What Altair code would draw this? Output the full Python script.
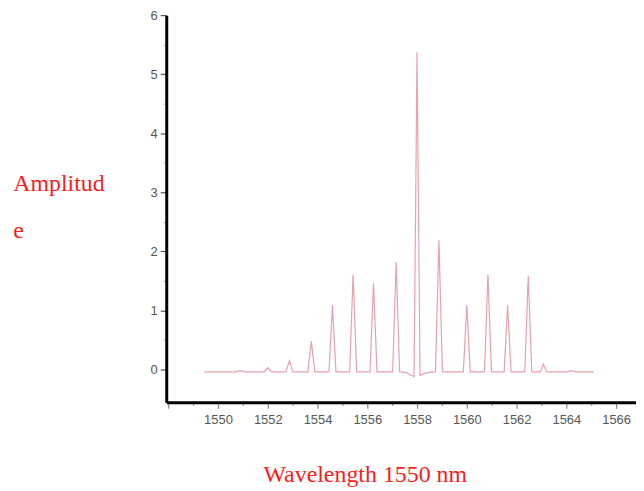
import altair as alt
import pandas as pd

# Spectrum trace (wavelength in nm, amplitude)
wavelength = [1549.45, 1550.70, 1550.90, 1551.10, 1551.85, 1552.00, 1552.15,
              1552.73, 1552.87, 1553.01, 1553.61, 1553.75, 1553.89,
              1554.46, 1554.60, 1554.74, 1555.29, 1555.43, 1555.57,
              1556.11, 1556.25, 1556.39, 1557.02, 1557.16, 1557.30,
              1557.55, 1557.72, 1557.88, 1558.00, 1558.12, 1558.28, 1558.48,
              1558.74, 1558.88, 1559.02, 1559.86, 1560.00, 1560.14,
              1560.71, 1560.85, 1560.99, 1561.50, 1561.64, 1561.78,
              1562.33, 1562.47, 1562.61, 1562.95, 1563.08, 1563.21,
              1564.05, 1564.20, 1564.35, 1565.10]
amplitude = [-0.04, -0.04, -0.02, -0.04, -0.04, 0.03, -0.04,
             -0.04, 0.15, -0.04, -0.04, 0.48, -0.04,
             -0.04, 1.09, -0.04, -0.04, 1.61, -0.04,
             -0.04, 1.46, -0.04, -0.04, 1.82, -0.04,
             -0.05, -0.09, -0.12, 5.37, -0.10, -0.07, -0.05,
             -0.04, 2.19, -0.04, -0.04, 1.09, -0.04,
             -0.04, 1.61, -0.04, -0.04, 1.09, -0.04,
             -0.04, 1.59, -0.04, -0.04, 0.09, -0.04,
             -0.04, -0.02, -0.04, -0.04]

x_ticks = list(range(1548, 1567))
y_ticks = [v / 2 for v in range(0, 13)]

df = pd.DataFrame({"wl": wavelength, "amp": amplitude})

W, H = 472, 389
x_min = 1550 - 52 / 25
x_max = 1550 + (167 + W - 219) / 25

chart = alt.Chart(df).mark_line(color="#e9a0aa", strokeWidth=1.2).encode(
    x=alt.X("wl:Q",
            scale=alt.Scale(domain=[x_min, x_max], nice=False, zero=False),
            axis=alt.Axis(
                values=x_ticks,
                labelExpr="(datum.value % 2 === 0 && datum.value >= 1550) ? datum.value : ''",
                title="Wavelength 1550 nm",
                titleFont="Liberation Serif", titleFontSize=24,
                titleFontWeight="normal", titleColor="#ff1a1a",
                titleAnchor="start", titleAlign="center",
                titleX=199.5, titleY=80, titleBaseline="alphabetic",
                grid=False,
                domainColor="#000000", domainWidth=3,
                tickColor="#888888", tickWidth=1.2,
                tickSize={"condition": {"test": "datum.value % 2 === 0", "value": 6}, "value": 3},
                labelFont="Liberation Sans", labelFontSize=13, labelColor="#555555",
                labelPadding=5, labelFlush=False, labelOverlap=False,
            )),
    y=alt.Y("amp:Q",
            scale=alt.Scale(domain=[-0.555, 6], nice=False, zero=False),
            axis=alt.Axis(
                values=y_ticks,
                labelExpr="datum.value % 1 === 0 ? datum.value : ''",
                title=["Amplitud", "e"],
                titleFont="Liberation Serif", titleFontSize=24,
                titleFontWeight="normal", titleColor="#ff1a1a",
                titleAngle=0, titleAlign="left", titleBaseline="alphabetic",
                titleX=-154.3, titleY=176, titleLineHeight=47,
                grid=False,
                domainColor="#000000", domainWidth=3,
                tickColor={"condition": {"test": "datum.value % 1 === 0", "value": "#555555"}, "value": "#bbbbbb"},
                tickWidth=1.2,
                tickSize={"condition": {"test": "datum.value % 1 === 0", "value": 6}, "value": 3},
                labelFont="Liberation Sans", labelFontSize=13, labelColor="#555555",
                labelPadding=3, labelFlush=False, labelOverlap=False,
            )),
).properties(
    width=W, height=H,
    autosize="none",
    background="#ffffff",
    padding={"left": 159, "top": 6, "right": 0, "bottom": 92},
).configure_view(strokeWidth=0, stroke="transparent")

chart.save("out.html", embed_options={"renderer": "svg", "actions": False})
